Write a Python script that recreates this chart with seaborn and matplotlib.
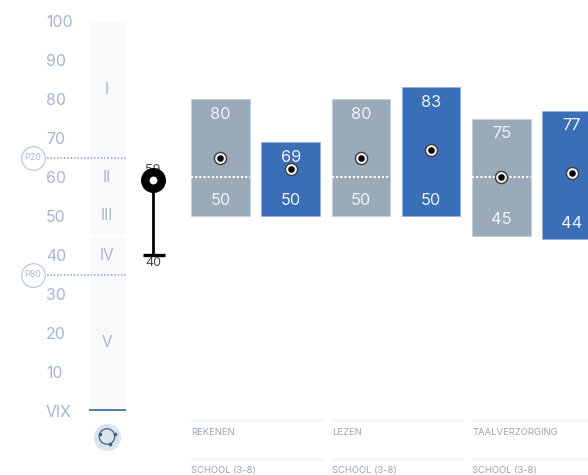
import numpy as np
import pandas as pd
import matplotlib
matplotlib.use("Agg")
import matplotlib.pyplot as plt
import seaborn as sns

groups = ["REKENEN", "LEZEN", "TAALVERZORGING"]
sub_labels = ["SCHOOL (3-8)", "SCHOOL (3-8)", "SCHOOL (3-8)"]

school_high = [80, 80, 75]
school_low = [50, 50, 45]
school_mid = [65, 65, 60]
school_split = [60, 60, 60]

pupil_high = [69, 83, 77]
pupil_low = [50, 50, 44]
pupil_mid = [62, 67, 61]

band_names = ["I", "II", "III", "IV", "V"]
band_low = [65, 55, 45, 35, 0]
band_high = [100, 65, 55, 45, 35]

scale_ticks = [0, 10, 20, 30, 40, 50, 60, 70, 80, 90, 100]
scale_labels = ["VIX", "10", "20", "30", "40", "50", "60", "70", "80", "90", "100"]

percentile_names = ["P20", "P80"]
percentile_values = [65, 35]

range_top = 59
range_bottom = 40

GRAY = "#9aaab9"
BLUE = "#3a6eb6"
SCALE = "#a4b6d0"

sns.set_theme(style="white")
plt.rcParams["font.family"] = ["Inter", "DejaVu Sans"]

def px(x):
    # picture column to x data
    return (x - 255.5) / 140.5

def py(y):
    return (411 - y) / 3.9

fig = plt.figure(figsize=(5.88, 4.75), dpi=100)
ax = fig.add_axes([0, 0, 1, 1])

# band column on the left
band_df = pd.DataFrame({"x": [px(107)] * 5, "low": band_low, "high": band_high, "name": band_names})
for _, row in band_df.iterrows():
    gap = 0.25 if row["name"] in ("II", "III") else 0
    ax.bar(row["x"], row["high"] - row["low"] - gap, width=37 / 140.5, bottom=row["low"] + gap,
           color="#f8f9fb", zorder=0)
    ax.text(row["x"], (row["low"] + row["high"]) / 2, row["name"], ha="center", va="center",
            fontsize=11, color="#a9b5c8")
ax.hlines(0.2, px(89), px(125.5), color="#4f7ca8", lw=1.4)

# percentile lines and their circles
for name, val in zip(percentile_names, percentile_values):
    ax.hlines(val, px(47), px(125.5), color="#8ba0bf", lw=1.1, linestyles=(0, (1, 1.2)))
    ax.scatter([px(33)], [val], s=290, facecolor="white", edgecolor="#bccada", lw=0.9, zorder=4)
    ax.text(px(33), val, name, ha="center", va="center", fontsize=6.5, color="#aeb9c8", zorder=5)

# refresh button
ax.scatter([px(107)], [py(436.5)], s=377, color="#dde3ea", lw=0, zorder=2)
ax.scatter([px(107)], [py(436.5)], s=125, facecolor="none", edgecolor="#4d6f8f", lw=1, zorder=3)
ax.scatter([px(99.5), px(114.5), px(110)], [py(434), py(434), py(444)], s=7, color="#3c6285", lw=0, zorder=4)

# lollipop range marker
ax.vlines(px(153), range_bottom, range_top, color="black", lw=2, zorder=3)
ax.hlines(range_bottom, px(142.5), px(164.5), color="black", lw=2.4, zorder=3)
ax.text(px(153), range_top + 2.8, str(range_top), ha="center", va="center", fontsize=9, color="#444444", zorder=1)
ax.text(px(153), range_bottom - 2, str(range_bottom), ha="center", va="center", fontsize=9, color="#444444")
ax.scatter([px(153)], [range_top + 0.2], s=141, facecolor="white", edgecolor="black", lw=6.1, zorder=4)

# floating bars
pos = np.arange(len(groups))
school_df = pd.DataFrame({"x": pos - 0.25, "span": np.array(school_high) - np.array(school_low)})
pupil_df = pd.DataFrame({"x": pos + 0.25, "span": np.array(pupil_high) - np.array(pupil_low)})
sns.barplot(data=school_df, x="x", y="span", bottom=school_low, native_scale=True, width=0.416,
            color=GRAY, saturation=1, errorbar=None, edgecolor="#c4d0dc", lw=0.6, ax=ax, zorder=2)
sns.barplot(data=pupil_df, x="x", y="span", bottom=pupil_low, native_scale=True, width=0.416,
            color=BLUE, saturation=1, errorbar=None, edgecolor="#8fb0da", lw=0.6, ax=ax, zorder=2)

for xs, hi, lo, mid in [(pos - 0.25, school_high, school_low, school_mid),
                        (pos + 0.25, pupil_high, pupil_low, pupil_mid)]:
    for x, h, l in zip(xs, hi, lo):
        ax.annotate(str(h), (x, h), xytext=(0, -11), textcoords="offset points", ha="center", va="center",
                    fontsize=11.8, color="#eef3f8", zorder=5)
        ax.annotate(str(l), (x, l), xytext=(0, 11.5), textcoords="offset points", ha="center", va="center",
                    fontsize=11.8, color="#eef3f8", zorder=5)
    ax.scatter(xs, mid, s=76, facecolor="#f2f2f2", edgecolor="#3a3f46", lw=1, zorder=7)
    ax.scatter(xs, mid, s=22, color="black", lw=0, zorder=8)

# white split lines on the school bars
for x, val in zip(pos - 0.25, school_split):
    ax.hlines(val, x - 0.208, x + 0.208, color="white", lw=1.5, linestyles=(0, (1, 1)), zorder=6)

# labels under the bars
for i, (g, s) in enumerate(zip(groups, sub_labels)):
    left = i - 0.456
    ax.hlines(py(419.5), left, i + 0.477, color="#f2f5f7", lw=2)
    ax.hlines(py(458.5), left, i + 0.477, color="#f2f5f7", lw=2)
    ax.text(left, py(432.5), g, ha="left", va="center", fontsize=6.8, color="#9aa5b1")
    ax.text(left, py(470.5), s, ha="left", va="center", fontsize=6.8, color="#9aa5b1")

ax.set_xlim(px(0), px(588))
ax.set_ylim(py(475), py(0))
ax.set_xlabel("")
ax.set_ylabel("")
ax.set_xticks([])
ax.set_yticks(scale_ticks)
ax.set_yticklabels(scale_labels)
ax.tick_params(axis="y", length=0, pad=-33, labelsize=11.4, labelcolor=SCALE)
for lab in ax.get_yticklabels():
    lab.set_ha("left")
sns.despine(ax=ax, left=True, bottom=True)

fig.savefig("out.png", dpi=100)
